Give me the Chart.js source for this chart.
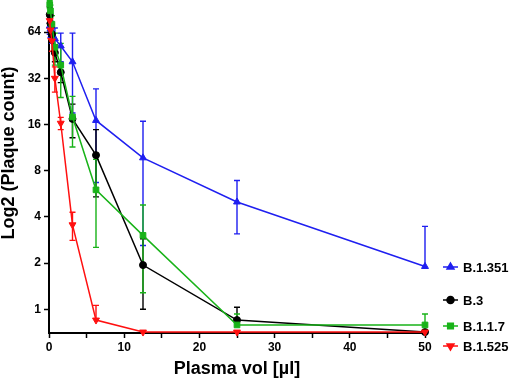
<!DOCTYPE html>
<html>
<head>
<meta charset="utf-8">
<script src="https://cdn.jsdelivr.net/npm/chart.js@4/dist/chart.umd.min.js"></script>
<style>
  html, body { margin: 0; padding: 0; background: #fff; }
  #wrap { width: 510px; height: 381px; position: relative; }
</style>
</head>
<body>
<div id="wrap"><canvas id="chart"></canvas></div>
<script>
// plasma volume (µl) of the dilution series
const plasmaVol = [0.098, 0.195, 0.39, 0.78, 1.5625, 3.125, 6.25, 12.5, 25, 50];

const seriesNames = ['B.1.351', 'B.3', 'B.1.1.7', 'B.1.525'];

// plaque count means and SD
const b1351Mean = [70, 67, 63, 58, 52, 41, 17, 9.7, 5.0, 1.9];
const b1351Sd   = [8, 8, 9, 10, 11, 22, 10.3, 7.1, 1.9, 1.57];
const b3Mean    = [83, 73, 62, 47, 35, 17.4, 10.1, 1.94, 0.85, 0.71];
const b3Sd      = [10, 8, 7, 6, 5, 4.3, 4.7, 0.94, 0.18, 0];
const b117Mean  = [97, 88, 72, 51, 39, 17.9, 6.0, 3.03, 0.79, 0.79];
const b117Sd    = [6, 8, 10, 12, 15, 6.5, 3.47, 1.75, 0.14, 0.14];
const b1525Mean = [76, 66, 56, 32, 16.3, 3.55, 0.85, 0.71, 0.71, 0.71];
const b1525Sd   = [8, 8, 8, 6, 1.5, 0.74, 0.21, 0, 0, 0];

const yTicks = [1, 2, 4, 8, 16, 32, 64];
const xTickLabels = [0, 10, 20, 30, 40, 50];

const colors = ['#1f1ff0', '#000000', '#19b319', '#ff1010'];
const styles = [
  { pointStyle: 'triangle', radius: 4, rotation: 0 },
  { pointStyle: 'circle', radius: 3.5, rotation: 0 },
  { pointStyle: 'rect', radius: 4, rotation: 0 },
  { pointStyle: 'triangle', radius: 4, rotation: 180 }
];
const means = [b1351Mean, b3Mean, b117Mean, b1525Mean];
const sds = [b1351Sd, b3Sd, b117Sd, b1525Sd];

const Y_MIN = 0.709, Y_MAX = 103.6;
const FONT = 'Liberation Sans, Arial, sans-serif';

function toPoints(arr) {
  return plasmaVol.map((x, i) => ({ x: x, y: arr[i] }));
}

// vertical SD bars with caps, drawn behind the markers
const errorBars = {
  id: 'errorBars',
  beforeDatasetsDraw(chart) {
    const ctx = chart.ctx;
    const xs = chart.scales.x, ys = chart.scales.y;
    ctx.save();
    ctx.lineWidth = 1.4;
    chart.data.datasets.forEach((ds, d) => {
      ctx.strokeStyle = ds.borderColor;
      ds.sd.forEach((sd, i) => {
        if (!sd) return;
        const m = ds.data[i].y;
        const px = xs.getPixelForValue(ds.data[i].x);
        const top = ys.getPixelForValue(m + sd);
        let bot = ys.getPixelForValue(m);
        const lo = m - sd;
        const showLow = lo > Y_MIN;
        if (showLow) bot = ys.getPixelForValue(lo);
        ctx.beginPath();
        ctx.moveTo(px, top); ctx.lineTo(px, bot);
        ctx.moveTo(px - 3, top); ctx.lineTo(px + 3, top);
        if (showLow) { ctx.moveTo(px - 3, bot); ctx.lineTo(px + 3, bot); }
        ctx.stroke();
      });
    });
    ctx.restore();
  }
};

// legend on the right and the rotated y title
const sideText = {
  id: 'sideText',
  afterDraw(chart) {
    const ctx = chart.ctx;
    const legendY = [267, 300, 326, 346];
    ctx.save();
    seriesNames.forEach((name, i) => {
      const y = legendY[i];
      ctx.strokeStyle = colors[i];
      ctx.fillStyle = colors[i];
      ctx.lineWidth = 1.5;
      ctx.beginPath();
      ctx.moveTo(443, y); ctx.lineTo(458, y);
      ctx.stroke();
      Chart.helpers.drawPoint(ctx, {
        pointStyle: styles[i].pointStyle, radius: styles[i].radius,
        rotation: styles[i].rotation, borderWidth: 1
      }, 450.5, y);
      ctx.fillStyle = '#000';
      ctx.font = 'bold 13px ' + FONT;
      ctx.textBaseline = 'middle';
      ctx.textAlign = 'left';
      ctx.fillText(name, 463, y + 1);
    });
    ctx.translate(9, 153);
    ctx.rotate(-Math.PI / 2);
    ctx.font = 'bold 18px ' + FONT;
    ctx.textAlign = 'center';
    ctx.textBaseline = 'middle';
    ctx.fillStyle = '#000';
    ctx.fillText('Log2 (Plaque count)', 0, 0);
    ctx.restore();
  }
};

new Chart(document.getElementById('chart'), {
  type: 'line',
  data: {
    datasets: seriesNames.map((name, i) => ({
      label: name,
      data: toPoints(means[i]),
      sd: sds[i],
      borderColor: colors[i],
      backgroundColor: colors[i],
      borderWidth: 1.5,
      pointStyle: styles[i].pointStyle,
      pointRadius: styles[i].radius,
      pointRotation: styles[i].rotation,
      pointBorderWidth: 1,
      tension: 0,
      clip: false,
      order: 3 - i
    }))
  },
  options: {
    responsive: true,
    maintainAspectRatio: false,
    animation: false,
    layout: { autoPadding: false, padding: { left: 0, right: 85, top: 0, bottom: 0 } },
    plugins: { legend: { display: false }, tooltip: { enabled: false } },
    scales: {
      x: {
        type: 'linear',
        min: 0, max: 50,
        afterFit(scale) { scale.height = 48; },
        afterBuildTicks(scale) {
          const t = [];
          for (let v = 0; v <= 50; v += 5) t.push({ value: v });
          scale.ticks = t;
        },
        ticks: {
          autoSkip: false,
          maxRotation: 0,
          padding: 2,
          color: '#000',
          font: { family: FONT, size: 12, weight: 'bold' },
          callback: (v) => xTickLabels.includes(v) ? String(v) : ''
        },
        grid: { drawOnChartArea: false, drawTicks: true, tickLength: 5, tickColor: '#000', tickWidth: 1.5 },
        border: { display: true, color: '#000', width: 2 },
        title: {
          display: true, text: 'Plasma vol [µl]', color: '#000',
          font: { family: FONT, size: 18, weight: 'bold' },
          padding: { top: 0, bottom: 1 }
        }
      },
      y: {
        type: 'logarithmic',
        min: Y_MIN, max: Y_MAX,
        afterFit(scale) {
          scale.width = 49;
          scale.paddingTop = 0;
          scale.paddingBottom = 0;
        },
        afterBuildTicks(scale) {
          scale.ticks = yTicks.map(v => ({ value: v }));
        },
        ticks: {
          autoSkip: false,
          padding: 3,
          color: '#000',
          font: { family: FONT, size: 12, weight: 'bold' },
          callback: (v) => String(v)
        },
        grid: { drawOnChartArea: false, drawTicks: true, tickLength: 5, tickColor: '#000', tickWidth: 1.5 },
        border: { display: true, color: '#000', width: 2 }
      }
    }
  },
  plugins: [errorBars, sideText]
});
</script>
</body>
</html>
